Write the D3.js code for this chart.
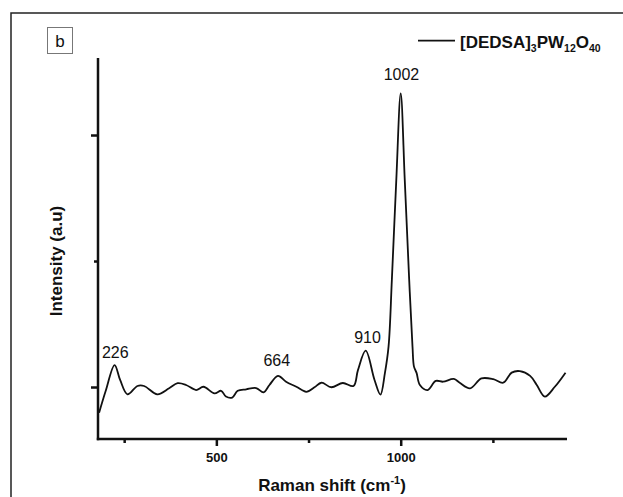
<!DOCTYPE html>
<html>
<head>
<meta charset="utf-8">
<script src="https://cdn.jsdelivr.net/npm/d3@7"></script>
<style>
  html, body { margin: 0; padding: 0; background: #fff; }
  svg { display: block; }
  text { font-family: Arial, "Liberation Sans", sans-serif; fill: #111; }
</style>
</head>
<body>
<svg id="chart" width="623" height="497"></svg>
<script>
// Raman shift (cm-1)
const shift = [182, 200, 224, 239, 259, 286, 304, 340, 372, 395, 418, 445, 465, 495, 513, 526, 543, 558, 581, 608, 628, 644, 667, 689, 717, 744, 766, 785, 812, 843, 872, 884, 905, 929, 945, 957, 967, 976, 988, 1000, 1011, 1023, 1032, 1036, 1043, 1052, 1073, 1095, 1115, 1144, 1160, 1188, 1219, 1251, 1278, 1301, 1323, 1351, 1369, 1391, 1418, 1447];
// Intensity (a.u)
const intensity = [898, 985, 1087, 1028, 971, 1004, 1004, 971, 995, 1015, 1008, 988, 1001, 975, 985, 962, 958, 985, 991, 996, 979, 1008, 1044, 1021, 1001, 981, 999, 1017, 999, 1016, 1004, 1067, 1144, 1028, 970, 1054, 1160, 1425, 1821, 2165, 1821, 1425, 1160, 1081, 1056, 1008, 988, 1024, 1021, 1032, 1017, 995, 1034, 1031, 1017, 1057, 1063, 1044, 1008, 962, 1001, 1057];
// Peak annotations
const peakLabels = ["226", "664", "910", "1002"];
const peakX = [226, 664, 910, 1002];
const peakY = [1117, 1085, 1175, 2220];
const xMajorTicks = [500, 1000];
const xMinorTicks = [250, 750, 1250];
const yMajorTicks = [1000, 2000];
const yMinorTicks = [1500];
const seriesName = ["[DEDSA]", "3", "PW", "12", "O", "40"];

const svg = d3.select("#chart");

// outer frame (extends beyond the picture)
svg.append("rect").attr("x", 11).attr("y", 13).attr("width", 700).attr("height", 600)
  .attr("fill", "none").attr("stroke", "#222").attr("stroke-width", 1.5);

const x = d3.scaleLinear().domain([179, 1451]).range([98, 567]);
const y = d3.scaleLinear().domain([793.7, 2305.6]).range([439, 58]);

// data line
const pts = shift.map((s, i) => [s, intensity[i]]);
svg.append("path").datum(pts)
  .attr("fill", "none").attr("stroke", "#111").attr("stroke-width", 1.8)
  .attr("stroke-linejoin", "round")
  .attr("d", d3.line().x(d => x(d[0])).y(d => y(d[1])).curve(d3.curveCatmullRom.alpha(0.5)));

// axes
const gx = svg.append("g").attr("transform", "translate(0,439)");
gx.call(d3.axisBottom(x).tickValues(xMajorTicks).tickSize(7).tickPadding(7).tickFormat(d3.format("d")));
const gxm = svg.append("g").attr("transform", "translate(0,439)");
gxm.call(d3.axisBottom(x).tickValues(xMinorTicks).tickSize(4).tickFormat(""));
const gy = svg.append("g").attr("transform", "translate(98,0)");
gy.call(d3.axisLeft(y).tickValues(yMajorTicks).tickSize(7).tickFormat(""));
const gym = svg.append("g").attr("transform", "translate(98,0)");
gym.call(d3.axisLeft(y).tickValues(yMinorTicks).tickSize(4).tickFormat(""));
[gx, gxm, gy, gym].forEach(g => {
  g.select(".domain").remove();
  g.selectAll(".tick line").attr("stroke", "#111").attr("stroke-width", 2.5);
});
gx.selectAll(".tick text").attr("font-size", 13).attr("font-weight", "bold")
  .attr("font-family", "Arial, 'Liberation Sans', sans-serif").attr("fill", "#111");

// axis lines
svg.append("line").attr("x1", 98).attr("x2", 98).attr("y1", 58).attr("y2", 440.2)
  .attr("stroke", "#111").attr("stroke-width", 2.5);
svg.append("line").attr("x1", 96.8).attr("x2", 567).attr("y1", 439).attr("y2", 439)
  .attr("stroke", "#111").attr("stroke-width", 2.5);

// axis titles
const xt = svg.append("text").attr("x", 332).attr("y", 491).attr("text-anchor", "middle")
  .attr("font-size", 17).attr("font-weight", "bold");
xt.append("tspan").text("Raman shift (cm");
xt.append("tspan").attr("font-size", 11).attr("dy", -7).text("-1");
xt.append("tspan").attr("dy", 7).text(")");

svg.append("text").attr("transform", "translate(62,261) rotate(-90)")
  .attr("text-anchor", "middle").attr("font-size", 17).attr("font-weight", "bold")
  .text("Intensity (a.u)");

// peak labels
svg.selectAll(".peak").data(peakLabels).enter().append("text")
  .attr("class", "peak")
  .attr("x", (d, i) => x(peakX[i]))
  .attr("y", (d, i) => y(peakY[i]))
  .attr("text-anchor", "middle").attr("font-size", 16)
  .text(d => d);

// panel label
svg.append("rect").attr("x", 47.5).attr("y", 27.5).attr("width", 25).attr("height", 26)
  .attr("fill", "#fff").attr("stroke", "#777").attr("stroke-width", 1);
svg.append("text").attr("x", 60).attr("y", 47).attr("text-anchor", "middle")
  .attr("font-size", 17).text("b");

// legend
svg.append("line").attr("x1", 418).attr("x2", 455).attr("y1", 40.7).attr("y2", 40.7)
  .attr("stroke", "#111").attr("stroke-width", 1.8);
const lt = svg.append("text").attr("x", 460).attr("y", 48.3)
  .attr("font-size", 17).attr("font-weight", "bold");
seriesName.forEach((s, i) => {
  const sub = i % 2 === 1;
  lt.append("tspan").attr("font-size", sub ? 10.5 : 17)
    .attr("dy", i === 0 ? 0 : (sub ? 4 : -4)).text(s);
});
</script>
</body>
</html>
